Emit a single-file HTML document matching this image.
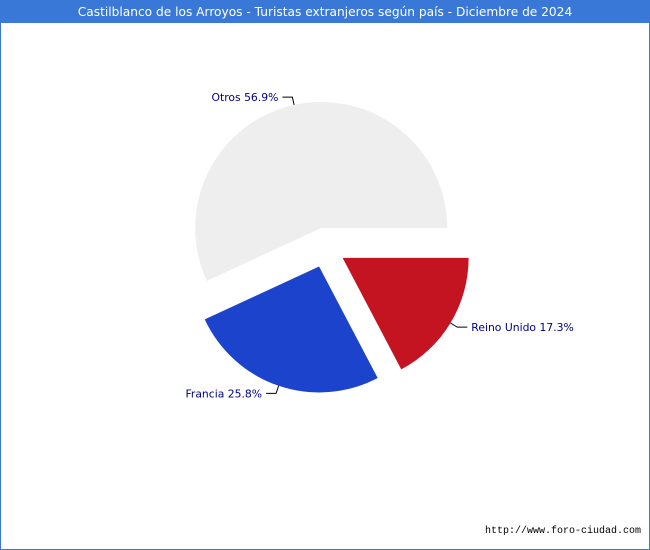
<!DOCTYPE html>
<html><head><meta charset="utf-8"><style>
body{margin:0;background:#fff;font-family:"DejaVu Sans","Liberation Sans",sans-serif}
#wrap{position:relative;width:648px;height:548px;border:1px solid #3a78d8;background:#fff}
#title{height:22px;background:#3a78d8;color:#fff;font-size:12.2px;line-height:22px;text-align:center}
#footer{position:absolute;right:8px;bottom:12px;font-size:10px;color:#000;font-family:"Liberation Mono","DejaVu Sans Mono",monospace}
svg{position:absolute;left:0;top:0}
</style></head><body>
<div id="wrap">
<div id="title">Castilblanco de los Arroyos - Turistas extranjeros según país - Diciembre de 2024</div>
<svg id="pie" width="648" height="548"></svg>
<div id="footer">http://www.foro-ciudad.com</div>
</div>
<script>
const categories=["Otros","Reino Unido","Francia"];
const values=[56.9,17.3,25.8];
const colors=["#eeeeee","#c41422","#1c43cc"];
const svg=document.getElementById('pie');
const NS="http://www.w3.org/2000/svg";
const cx=324.5,cy=246.5,R=126,off=20;
const total=values.reduce((a,b)=>a+b,0);
const segs=[];
{let a0=0,a1=values[0]/total*360;segs.push([a0,a1]);
 let s=0;for(let i=1;i<values.length;i++){let e=s-values[i]/total*360;segs.push([e,s]);s=e;}}
function pt(x,y,a,r){const t=a*Math.PI/180;return [x+r*Math.cos(t),y-r*Math.sin(t)];}
segs.forEach((sg,i)=>{
 const mid=(sg[0]+sg[1])/2;
 const [ox,oy]=pt(cx,cy,mid,off);
 const p0=pt(ox,oy,sg[0],R),p1=pt(ox,oy,sg[1],R);
 const large=(sg[1]-sg[0])>180?1:0;
 const path=document.createElementNS(NS,'path');
 path.setAttribute('d',`M${ox},${oy} L${p0[0]},${p0[1]} A${R},${R} 0 ${large} 0 ${p1[0]},${p1[1]} Z`);
 path.setAttribute('fill',colors[i]);
 
 
 svg.appendChild(path);
 const e=pt(ox,oy,mid,R),e2=pt(ox,oy,mid,R+8);
 const right=Math.cos(mid*Math.PI/180)>=0;
 const hx=e2[0]+(right?10:-10);
 const ln=document.createElementNS(NS,'polyline');
 ln.setAttribute('points',`${e[0]},${e[1]} ${e2[0]},${e2[1]} ${hx},${e2[1]}`);
 ln.setAttribute('fill','none');ln.setAttribute('stroke','#000');ln.setAttribute('stroke-width','1');
 
 
 svg.appendChild(ln);
 const t=document.createElementNS(NS,'text');
 t.setAttribute('x',hx+(right?4:-4));t.setAttribute('y',e2[1]+4);
 t.setAttribute('text-anchor',right?'start':'end');
 t.setAttribute('font-size','10.8');t.setAttribute('fill','#000080');
 t.setAttribute('font-family','"DejaVu Sans","Liberation Sans",sans-serif');
 t.textContent=categories[i]+' '+values[i].toFixed(1)+'%';
 
 
 svg.appendChild(t);
});
</script>
</body></html>
